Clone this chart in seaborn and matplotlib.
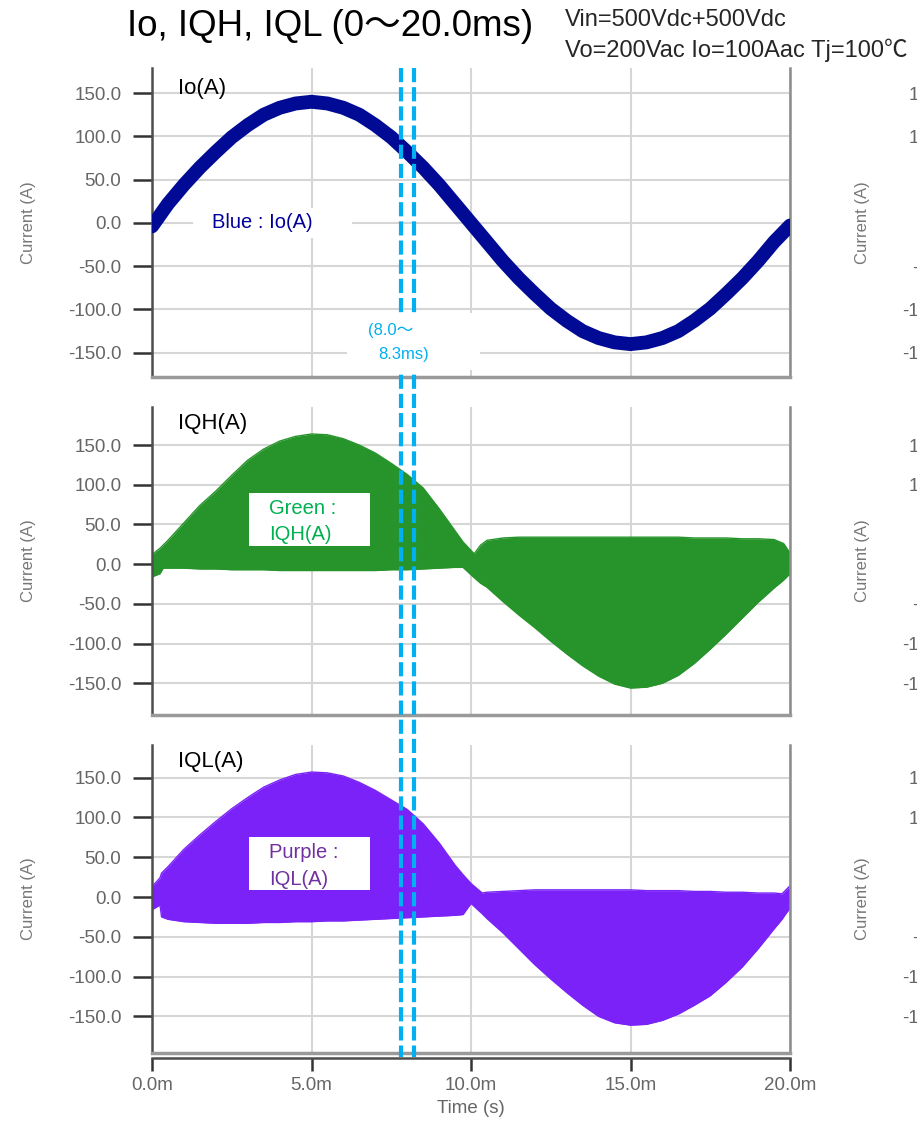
import matplotlib
matplotlib.use("Agg")
import matplotlib.pyplot as plt
import matplotlib.transforms as mtransforms
from matplotlib.lines import Line2D
from matplotlib.patches import Rectangle
import seaborn as sns

# ---- values (time in ms, current in A) ----
t_io = [0.0, 0.5, 1.0, 1.5, 2.0, 2.5, 3.0, 3.5, 4.0, 4.5, 5.0, 5.5, 6.0, 6.5,
        7.0, 7.5, 8.0, 8.5, 9.0, 9.5, 10.0, 10.5, 11.0, 11.5, 12.0, 12.5, 13.0,
        13.5, 14.0, 14.5, 15.0, 15.5, 16.0, 16.5, 17.0, 17.5, 18.0, 18.5, 19.0,
        19.5, 20.0]
io_a = [-4, 22, 44, 64, 82, 99, 113, 125, 133, 138, 140, 138, 133, 125, 113,
        99, 82, 64, 44, 22, 0, -22, -44, -64, -82, -99, -113, -125, -133, -138,
        -140, -138, -133, -125, -113, -99, -82, -64, -44, -22, -3]

t_iqh = [0.0, 0.25, 0.35, 0.5, 1.0, 1.5, 2.0, 2.5, 3.0, 3.5, 4.0, 4.5, 5.0,
         5.5, 6.0, 6.5, 7.0, 7.5, 8.0, 8.5, 9.0, 9.5, 9.75, 10.1, 10.3, 10.5,
         11.0, 11.5, 12.0, 12.5, 13.0, 13.5, 14.0, 14.5, 15.0, 15.5, 16.0, 16.5,
         17.0, 17.5, 18.0, 18.5, 19.0, 19.5, 19.8, 20.0]
iqh_hi = [12, 20, 24, 30, 52, 74, 92, 112, 131, 145, 155, 161, 164, 163, 158,
          150, 140, 127, 113, 96, 70, 42, 28, 13, 24, 30, 33, 34, 34, 34, 34,
          34, 34, 34, 34, 34, 34, 34, 33, 33, 33, 32, 32, 31, 26, 14]
iqh_lo = [-16, -12, -5, -5, -5, -6, -6, -7, -7, -7, -8, -8, -8, -8, -8, -8,
          -8, -7, -7, -6, -5, -4, -4, -17, -24, -29, -47, -64, -80, -97, -113,
          -128, -141, -151, -156, -155, -150, -140, -125, -107, -88, -68, -48,
          -30, -20, -12]

t_iql = [0.0, 0.25, 0.3, 0.5, 1.0, 1.5, 2.0, 2.5, 3.0, 3.5, 4.0, 4.5, 5.0,
         5.5, 6.0, 6.5, 7.0, 7.5, 8.0, 8.5, 9.0, 9.5, 9.75, 10.0, 10.35, 10.5,
         11.0, 11.5, 12.0, 12.5, 13.0, 13.5, 14.0, 14.5, 15.0, 15.5, 16.0, 16.5,
         17.0, 17.5, 18.0, 18.5, 19.0, 19.5, 19.75, 19.85, 20.0]
iql_hi = [13, 24, 30, 38, 60, 78, 95, 111, 125, 138, 147, 154, 157, 156, 152,
          144, 134, 122, 110, 92, 68, 40, 28, 17, 5, 6, 7, 8, 9, 9, 9, 9, 9, 9,
          9, 8, 8, 8, 7, 7, 6, 6, 5, 5, 4, 8, 14]
iql_lo = [-16, -10, -25, -28, -31, -32, -33, -33, -33, -32, -32, -31, -31, -30,
          -30, -29, -28, -27, -26, -25, -24, -23, -22, -8, -21, -27, -45, -65,
          -85, -103, -120, -136, -150, -158, -161, -160, -155, -147, -136, -124,
          -107, -88, -65, -40, -28, -22, -14]

cursor_ms = [7.8, 8.2]
y_ticks = [-150, -100, -50, 0, 50, 100, 150]
time_ticks = [0, 5, 10, 15, 20]
time_labels = ["0.0m", "5.0m", "10.0m", "15.0m", "20.0m"]
panel_names = ["Io(A)", "IQH(A)", "IQL(A)"]
panel_ylims = [(-178, 179), (-190, 198), (-196, 191)]

io_color = "#000A94"
iqh_color = "#26942A"
iql_color = "#7A22F7"
cursor_color = "#00B0F0"

sns.set_theme(style="white")
plt.rcParams["font.family"] = ["Liberation Sans", "Noto Sans CJK JP", "DejaVu Sans"]

W, H = 917, 1122
fig = plt.figure(figsize=(W / 100, H / 100), dpi=100)
px = mtransforms.Affine2D().scale(1 / W, -1 / H).translate(0, 1) + fig.transFigure

# panel frames in pixels: (left, top, right, bottom)
frames = [(152, 68, 790, 377), (152, 407, 790, 715), (152, 745, 790, 1053)]


def style_y(ax, ylim):
    ax.set_ylim(*ylim)
    ax.set_yticks(y_ticks, labels=[f"{v:.1f}" for v in y_ticks])
    ax.tick_params(axis="y", length=14, width=1.8, color="#333333",
                   labelsize=13.5, labelcolor="#666666", pad=8, left=True)
    ax.tick_params(axis="x", length=0, labelbottom=False)


def set_ylabel(ax, x_px):
    ax.set_ylabel("Current (A)", fontsize=12, color="#777777")
    ax.yaxis.set_label_coords(
        x_px / W, 0.5,
        transform=mtransforms.blended_transform_factory(fig.transFigure, ax.transAxes))


axes = []
for (l, t, r, b), ylim, name in zip(frames, panel_ylims, panel_names):
    ax = fig.add_axes([l / W, 1 - b / H, (r - l) / W, (b - t) / H])
    ax.set_xlim(0, 20)
    ax.set_xticks(time_ticks)
    style_y(ax, ylim)
    ax.grid(True, color="#d6d6d6", lw=1.5)
    ax.set_axisbelow(True)
    ax.spines["top"].set_visible(False)
    ax.spines["left"].set_color("#4d4d4d")
    ax.spines["left"].set_linewidth(1.8)
    ax.spines["right"].set_color("#8c8c8c")
    ax.spines["right"].set_linewidth(1.8)
    ax.spines["bottom"].set_color("#9a9a9a")
    ax.spines["bottom"].set_linewidth(2.5)
    ax.text(0.041, 0.935 if name == "Io(A)" else 0.947, name,
            transform=ax.transAxes, va="center", fontsize=16, color="black")

    # the second (cut-off) chart on the right edge
    gax = fig.add_axes([986 / W, 1 - b / H, 0.4, (b - t) / H])
    style_y(gax, ylim)
    for s in gax.spines.values():
        s.set_visible(False)
    set_ylabel(gax, 870)
    axes.append(ax)

ax1, ax2, ax3 = axes

sns.lineplot(x=t_io, y=io_a, ax=ax1, color=io_color, linewidth=10, zorder=3)

ax2.fill_between(t_iqh, iqh_lo, iqh_hi, color=iqh_color, lw=0, zorder=2)
sns.lineplot(x=t_iqh, y=iqh_hi, ax=ax2, color=iqh_color, linewidth=1, zorder=2)
sns.lineplot(x=t_iqh, y=iqh_lo, ax=ax2, color=iqh_color, linewidth=1, zorder=2)

ax3.fill_between(t_iql, iql_lo, iql_hi, color=iql_color, lw=0, zorder=2)
sns.lineplot(x=t_iql, y=iql_hi, ax=ax3, color=iql_color, linewidth=1, zorder=2)
sns.lineplot(x=t_iql, y=iql_lo, ax=ax3, color=iql_color, linewidth=1, zorder=2)

for ax in axes:
    ax.set_xlabel("")
    set_ylabel(ax, 36)

# time axis under the last panel
sec = ax3.secondary_xaxis(-5 / 308)
sec.set_xticks(time_ticks, labels=time_labels)
sec.tick_params(length=9, width=1.8, color="#333333", labelsize=13.5,
                labelcolor="#666666", pad=5)
sec.spines["bottom"].set_color("#4d4d4d")
sec.spines["bottom"].set_linewidth(1.8)
sec.set_xlabel("Time (s)", fontsize=13.5, color="#666666", labelpad=4)

# cursor lines across all three panels
cur_trans = mtransforms.blended_transform_factory(ax3.transData, fig.transFigure)
for c in cursor_ms:
    fig.add_artist(Line2D([c, c], [1 - 68 / H, 1 - 1057 / H], transform=cur_trans,
                          color=cursor_color, lw=3, dashes=(3.4, 1.2), zorder=4))

# annotation boxes (pixel coordinates)
notes = [
    ((347, 313, 480, 370), [(368, 330, "(8.0～"), (378, 355, "8.3ms)")], cursor_color, 12),
    ((193, 208, 352, 238), [(212, 222, "Blue : Io(A)")], "#000099", 14.5),
    ((249, 493, 370, 546), [(269, 508, "Green :"), (269, 535, "IQH(A)")], "#00B050", 14.5),
    ((249, 837, 370, 890), [(269, 853, "Purple :"), (269, 880, "IQL(A)")], "#7030A0", 14.5),
]
for (l, t, r, b), lines, col, fs in notes:
    fig.add_artist(Rectangle((l, b), r - l, t - b, transform=px, fc="white",
                             ec="none", zorder=5))
    for x, y, s in lines:
        fig.text(x, y, s, transform=px, va="center", ha="left", fontsize=fs,
                 color=col, zorder=6)

fig.text(330, 27, "Io, IQH, IQL (0～20.0ms)", transform=px, ha="center",
         va="center", fontsize=26.5, color="black")
fig.text(565, 20, "Vin=500Vdc+500Vdc", transform=px, va="center", fontsize=17)
fig.text(565, 50, "Vo=200Vac Io=100Aac Tj=100℃", transform=px, va="center",
         fontsize=17)

fig.savefig("out.png", dpi=100)
